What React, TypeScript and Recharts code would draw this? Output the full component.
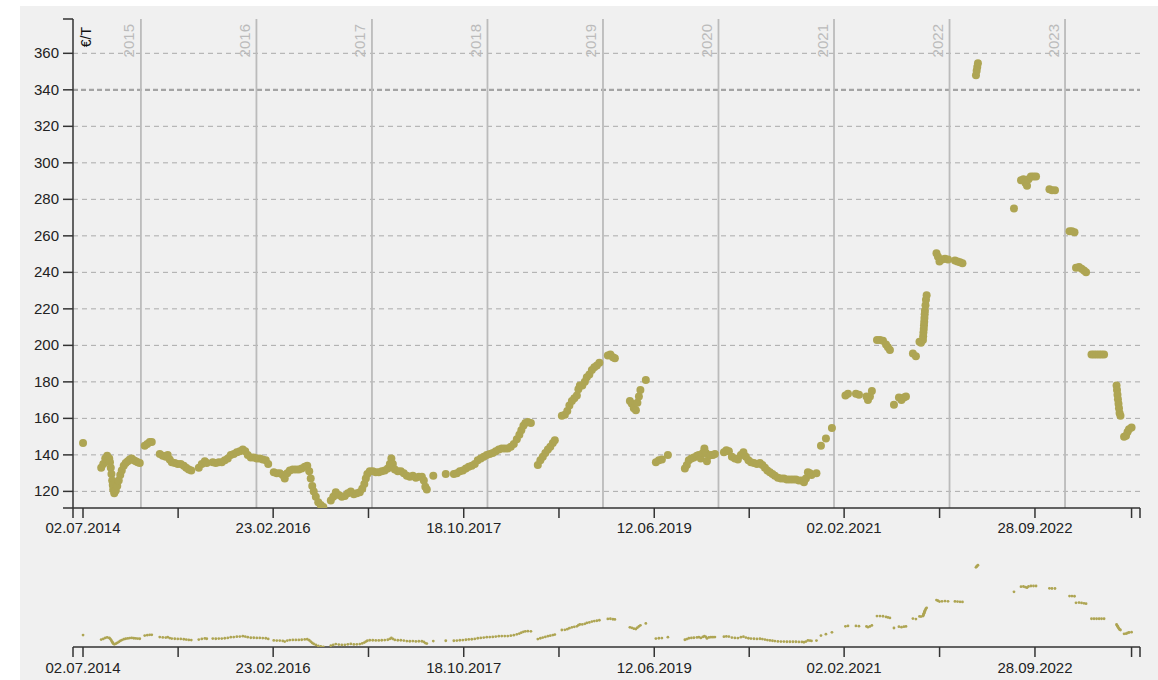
import React from 'react';
import { ScatterChart, Scatter, XAxis, YAxis, ReferenceLine } from 'recharts';

// ---- data (decimal years, €/T) ----
const years: number[] = [
  2014.499, 2014.656, 2014.674, 2014.691, 2014.708, 2014.726, 2014.732, 2014.739, 2014.745, 2014.751, 2014.756, 2014.760,
  2014.769, 2014.782, 2014.795,
  2014.808, 2014.821, 2014.834, 2014.851, 2014.868, 2014.886, 2014.903, 2014.920, 2014.938, 2014.955, 2014.972, 2014.990,
  2015.033, 2015.055, 2015.076, 2015.094,
  2015.163, 2015.189, 2015.215, 2015.232, 2015.249, 2015.267, 2015.293, 2015.319, 2015.345, 2015.371, 2015.392, 2015.414, 2015.436,
  2015.501, 2015.527, 2015.553, 2015.570,
  2015.622, 2015.648, 2015.674, 2015.700, 2015.726, 2015.752, 2015.778, 2015.804, 2015.830, 2015.856, 2015.882, 2015.903,
  2015.925, 2015.951, 2015.977, 2016.003, 2016.029, 2016.055, 2016.081, 2016.102,
  2016.150, 2016.176, 2016.202, 2016.228, 2016.245, 2016.267, 2016.289, 2016.315, 2016.341, 2016.367, 2016.392, 2016.418,
  2016.440, 2016.457, 2016.470, 2016.483, 2016.496, 2016.514, 2016.535, 2016.557, 2016.579,
  2016.644, 2016.665, 2016.687, 2016.713, 2016.739, 2016.765, 2016.791, 2016.817, 2016.843, 2016.869, 2016.895, 2016.916,
  2016.934, 2016.947, 2016.960, 2016.981, 2017.007, 2017.033, 2017.059, 2017.085, 2017.111, 2017.137, 2017.155, 2017.168,
  2017.181, 2017.198, 2017.224, 2017.250, 2017.276, 2017.302, 2017.328, 2017.354, 2017.380, 2017.406, 2017.432, 2017.449,
  2017.462, 2017.475,
  2017.531, 2017.639,
  2017.709, 2017.735, 2017.761, 2017.787, 2017.813, 2017.838, 2017.864, 2017.890, 2017.916, 2017.942, 2017.968, 2017.994,
  2018.020, 2018.046, 2018.072, 2018.098, 2018.124, 2018.150, 2018.176, 2018.202, 2018.228, 2018.254, 2018.276, 2018.293,
  2018.311, 2018.328, 2018.350, 2018.376,
  2018.436, 2018.458, 2018.479, 2018.501, 2018.523, 2018.544, 2018.566, 2018.583,
  2018.644, 2018.670, 2018.691, 2018.709, 2018.731, 2018.752, 2018.774, 2018.787, 2018.800, 2018.821, 2018.843, 2018.860,
  2018.882, 2018.904, 2018.925, 2018.947, 2018.969, 2019.042, 2019.064, 2019.086, 2019.103,
  2019.233, 2019.250, 2019.267, 2019.285, 2019.298, 2019.311, 2019.324, 2019.371,
  2019.458, 2019.484, 2019.510, 2019.562,
  2019.709, 2019.726, 2019.743, 2019.765, 2019.787, 2019.813, 2019.830, 2019.847, 2019.865, 2019.878, 2019.891, 2019.900,
  2019.917, 2019.934, 2019.952, 2019.969,
  2020.047, 2020.068, 2020.090, 2020.116, 2020.142, 2020.168, 2020.194, 2020.216, 2020.237, 2020.259, 2020.281, 2020.307,
  2020.333, 2020.359, 2020.380, 2020.402, 2020.423, 2020.445, 2020.467, 2020.488, 2020.514, 2020.540, 2020.566, 2020.592,
  2020.618, 2020.644, 2020.670, 2020.696, 2020.722, 2020.740, 2020.757, 2020.774, 2020.791, 2020.805, 2020.848,
  2020.887, 2020.930, 2020.982,
  2021.099, 2021.121, 2021.190, 2021.216, 2021.281, 2021.294, 2021.311, 2021.328,
  2021.372, 2021.398, 2021.424, 2021.450, 2021.467, 2021.484,
  2021.519, 2021.562, 2021.584, 2021.605, 2021.623,
  2021.683, 2021.709,
  2021.740, 2021.753, 2021.770, 2021.772, 2021.774, 2021.777, 2021.779, 2021.781, 2021.783, 2021.785, 2021.787, 2021.792,
  2021.796, 2021.802,
  2021.887, 2021.900, 2021.913, 2021.935, 2021.961, 2021.987, 2022.047, 2022.069, 2022.091, 2022.112,
  2022.229, 2022.235, 2022.240, 2022.246,
  2022.558,
  2022.619, 2022.640, 2022.658, 2022.671, 2022.684, 2022.705, 2022.727, 2022.749,
  2022.865, 2022.887, 2022.913,
  2023.039, 2023.060, 2023.082,
  2023.095, 2023.121, 2023.143, 2023.164, 2023.182,
  2023.229, 2023.251, 2023.273, 2023.295, 2023.316, 2023.338,
  2023.446, 2023.450, 2023.454, 2023.458, 2023.463, 2023.467, 2023.472, 2023.480,
  2023.511, 2023.528, 2023.541, 2023.554, 2023.576,
];

const prices: number[] = [
  146.5, 133, 135, 138, 139.5, 138, 136, 133, 129.5, 126, 123.5, 121,
  119, 120.5, 123,
  126, 129, 131.5, 134, 135.5, 136.5, 137.5, 138, 137, 136.5, 136, 135.5,
  145, 146, 147, 147,
  140.5, 139.5, 139, 140, 137.5, 136, 135.5, 135, 135, 134, 133, 132, 131.5,
  133, 135, 136.5, 135.5,
  136, 135.5, 136, 136, 137, 138, 140, 140.5, 141.5, 142, 143, 142,
  140, 138.5, 138.5, 138, 138, 137.5, 137, 135,
  130.5, 130, 130, 129, 127, 130, 131.5, 132, 132, 132, 132.5, 133.5,
  134, 131, 127, 123, 120, 117, 114, 112.5, 111.5,
  115, 117, 119.5, 118, 117, 117.5, 119, 120, 118.5, 119, 119.5, 121.5,
  124, 127, 129.5, 131, 131, 130.5, 130.5, 131, 131.5, 132.5, 135, 138,
  135, 132, 131, 131, 130, 128.5, 128, 128.5, 127.5, 128, 128, 126,
  122.5, 121,
  128.5, 129.5,
  129.5, 130, 131, 131.5, 132.5, 133.5, 134, 135, 137, 138, 139, 140,
  140.5, 141, 142, 143, 143.5, 143.5, 143.5, 144.5, 146, 148.5, 151, 153.5,
  156, 157.5, 158, 157.5,
  134.5, 137, 139, 141, 143, 144.5, 146.5, 148,
  161.5, 162, 164, 167, 169.5, 171, 172.5, 176, 178, 178, 180, 182.5,
  184, 186.5, 188, 189, 190.5, 194.5, 195, 193.5, 193,
  169.5, 168, 165.5, 164.5, 168.5, 172, 175.5, 181,
  136, 137, 137.5, 140,
  132.5, 134.5, 137, 138, 138.5, 139.5, 140, 138, 141, 143.5, 141, 136.5,
  139.5, 140, 140, 140.5,
  141.5, 142.5, 142, 139, 138, 137.5, 140, 141.5, 139, 137, 136, 135.5,
  135, 135.5, 134.5, 133, 131.5, 130.5, 129.5, 128.5, 127.5, 127, 127, 126.5,
  126.5, 126.5, 126.5, 126, 126, 125, 127, 130.5, 130, 129, 130,
  145, 149, 154.7,
  172.5, 173.5, 173.5, 173, 172, 170, 172, 175,
  203, 203, 202.5, 200.5, 199, 197.5,
  167.5, 171.5, 170, 171.5, 172,
  195.5, 194,
  202, 201.5, 203, 205, 207, 209, 211, 213, 215, 217, 219, 222,
  225, 227.5,
  250.5, 248.5, 246, 247, 247.5, 247, 246.5, 246, 245.5, 245,
  348, 350.5, 352.5, 354.5,
  275,
  290.5, 291, 289, 287.5, 291, 292.5, 292.5, 292.5,
  285.5, 285, 285,
  262.5, 262.5, 262,
  242.5, 243, 242, 241, 240,
  195, 195, 195, 195, 195, 195,
  178, 175.5, 173, 170.5, 168, 165.5, 163, 161.5,
  150, 150.5, 152.5, 154, 155,
];

// ---- axes ----
const dateLabels: string[] = ['02.07.2014', '23.02.2016', '18.10.2017', '12.06.2019', '02.02.2021', '28.09.2022'];
const minorTickYears: number[] = [2015.322, 2016.970, 2018.619, 2020.266, 2021.914, 2023.576];
const yearLines: number[] = [2015, 2016, 2017, 2018, 2019, 2020, 2021, 2022, 2023];
const priceTicks: number[] = [120, 140, 160, 180, 200, 220, 240, 260, 280, 300, 320, 340, 360];
const xDomain: [number, number] = [2014.412, 2023.649];
const yDomain: [number, number] = [110.9, 378.8];
const unitLabel = '€/T';

const DOT = '#aea553';
const FONT = '"Liberation Sans", Arial, Helvetica, sans-serif';

function toDecimalYear(s: string): number {
  const [d, m, y] = s.split('.').map(Number);
  const start = Date.UTC(y, 0, 1);
  const end = Date.UTC(y + 1, 0, 1);
  return y + (Date.UTC(y, m - 1, d) - start) / (end - start);
}

const labelYears = dateLabels.map(toDecimalYear);
const xTicks = [xDomain[0], ...labelYears, ...minorTickYears, xDomain[1]].sort((a, b) => a - b);
const yTicks = [yDomain[0], ...priceTicks, yDomain[1]];

const data = years.map((x, i) => ({ x, y: prices[i] }));

const XTick = (props: any) => {
  const { x, y, payload } = props;
  const idx = labelYears.findIndex((v) => Math.abs(v - payload.value) < 1e-6);
  if (idx < 0) return <g />;
  return (
    <text x={x} y={y} dy="0.71em" textAnchor="middle" fill="#222" fontSize={15} fontFamily={FONT}>
      {dateLabels[idx]}
    </text>
  );
};

const YTick = (props: any) => {
  const { x, y, payload } = props;
  if (!priceTicks.includes(payload.value)) return <g />;
  return (
    <text x={x} y={y} dy="0.32em" textAnchor="end" fill="#222" fontSize={15} fontFamily={FONT}>
      {payload.value}
    </text>
  );
};

const YearLabel = (props: any) => {
  const vb = props.viewBox || {};
  if (vb.x == null) return null;
  return (
    <text
      transform={`translate(${vb.x - 6.5},${(vb.y ?? 19) + 5}) rotate(-90)`}
      textAnchor="end"
      fill="#bbb"
      fontSize={15}
      fontFamily={FONT}
    >
      {props.text}
    </text>
  );
};

const bigDot = (p: any) => <circle cx={p.cx} cy={p.cy} r={4} fill={DOT} />;
const smallDot = (p: any) => <circle cx={p.cx} cy={p.cy} r={1.4} fill={DOT} />;

const axisStroke = { stroke: '#333', strokeWidth: 1.5 };

export default function App() {
  return (
    <div style={{ position: 'absolute', left: 0, top: 0, width: 1158, height: 680, background: '#fff', overflow: 'hidden', fontFamily: FONT }}>
      <div style={{ position: 'absolute', left: 20, top: 6, width: 1138, height: 674, background: '#f0f0f0' }} />
      <div style={{ position: 'absolute', left: 0, top: 0 }}>
        <ScatterChart width={1158} height={540} margin={{ top: 19, right: 18, bottom: 2, left: 13 }}>
          <XAxis
            type="number"
            dataKey="x"
            domain={xDomain}
            allowDataOverflow
            ticks={xTicks}
            interval={0}
            height={30}
            tickSize={10}
            tickMargin={4}
            axisLine={axisStroke}
            tickLine={axisStroke}
            tick={<XTick />}
          />
          <YAxis
            type="number"
            dataKey="y"
            domain={yDomain}
            allowDataOverflow
            ticks={yTicks}
            interval={0}
            width={60}
            tickSize={10}
            tickMargin={4}
            axisLine={axisStroke}
            tickLine={axisStroke}
            tick={<YTick />}
          />
          {priceTicks.map((v) => (
            <ReferenceLine
              key={'h' + v}
              y={v}
              stroke={v === 340 ? '#a4a4a4' : '#aaa'}
              strokeWidth={v === 340 ? 2.2 : 1}
              strokeDasharray={v === 340 ? '5 3' : '5 4'}
            />
          ))}
          {yearLines.map((yr) => (
            <ReferenceLine key={'v' + yr} x={yr} stroke="#bbb" strokeWidth={1.8} label={<YearLabel text={String(yr)} />} />
          ))}
          <Scatter data={data} isAnimationActive={false} shape={bigDot} />
        </ScatterChart>
      </div>
      <div style={{ position: 'absolute', left: 0, top: 540 }}>
        <ScatterChart width={1158} height={140} margin={{ top: 17, right: 18, bottom: 3, left: 13 }}>
          <XAxis
            type="number"
            dataKey="x"
            domain={xDomain}
            allowDataOverflow
            ticks={xTicks}
            interval={0}
            height={30}
            tickSize={10}
            tickMargin={5}
            axisLine={axisStroke}
            tickLine={axisStroke}
            tick={<XTick />}
          />
          <YAxis type="number" dataKey="y" domain={yDomain} allowDataOverflow width={60} axisLine={false} tickLine={false} tick={false} />
          <Scatter data={data} isAnimationActive={false} shape={smallDot} />
        </ScatterChart>
      </div>
      <svg width={1158} height={680} style={{ position: 'absolute', left: 0, top: 0, pointerEvents: 'none' }}>
        <text transform="translate(91,27) rotate(-90)" textAnchor="end" fill="#111" fontSize={14} fontFamily={FONT}>
          {unitLabel}
        </text>
      </svg>
    </div>
  );
}
